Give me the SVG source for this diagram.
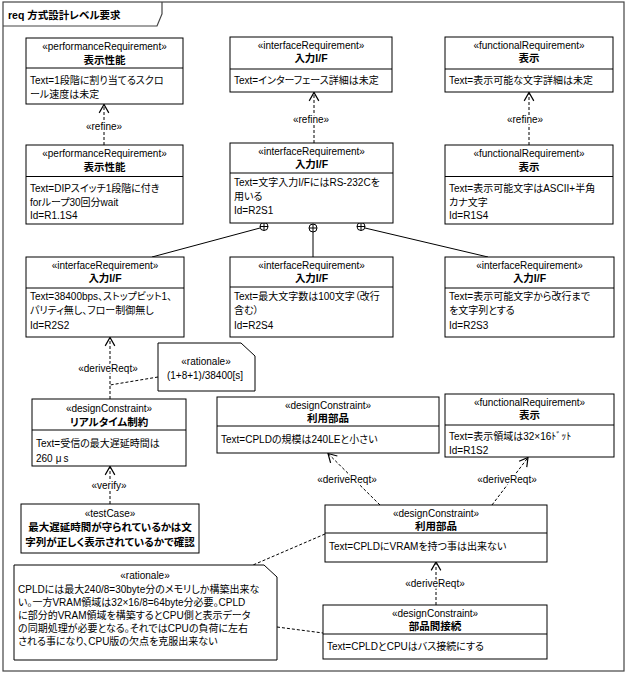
<svg xmlns="http://www.w3.org/2000/svg" width="627" height="675" viewBox="0 0 627 675">
<style>
.bg{fill:#fff}
.frame{fill:none;stroke:#444;stroke-width:1.2}
.b{fill:#fff;stroke:#000;stroke-width:1}
.d{stroke:#000;stroke-width:1}
.t{font-family:"Liberation Sans","Noto Sans CJK JP",sans-serif;font-size:10px;fill:#000;font-feature-settings:"palt" 1}
.c{text-anchor:middle}
.n{font-weight:bold;font-size:10.5px}
.np{font-feature-settings:normal}
.lbl{paint-order:stroke;stroke:#fff;stroke-width:3px;stroke-linejoin:round}
.dash{fill:none;stroke:#000;stroke-width:1;stroke-dasharray:3,2}
.solid{fill:none;stroke:#000;stroke-width:1}
</style>
<defs>
<marker id="open" markerUnits="userSpaceOnUse" markerWidth="12" markerHeight="12" viewBox="-8 -5 10 10" refX="0" refY="0" orient="auto">
<path d="M-7,-4 L0,0 L-7,4" fill="none" stroke="#000" stroke-width="1" stroke-dasharray="none"/>
</marker>
</defs>
<rect class="bg" x="0" y="0" width="627" height="675"/>
<g id="frame">
<rect class="frame" x="3" y="2" width="621" height="669"/>
<path class="frame" d="M3,26 H157 L162,14 V2"/>
<text class="t n" x="8" y="19">req 方式設計レベル要求</text>
</g>

<g id="connectors">
<line class="dash" x1="104" y1="145" x2="104" y2="104.5" marker-end="url(#open)"/>
<line class="dash" x1="314" y1="143" x2="314" y2="92.5" marker-end="url(#open)"/>
<line class="dash" x1="529" y1="145" x2="529" y2="92.5" marker-end="url(#open)"/>
<line class="solid" x1="260" y1="228" x2="152" y2="257"/>
<line class="solid" x1="313" y1="232" x2="313" y2="257"/>
<line class="solid" x1="365" y1="228" x2="488" y2="257"/>
<g id="containment">
<circle class="b" cx="264" cy="226.5" r="4"/><path class="d" d="M260,226.5 H268 M264,222.5 V230.5"/>
<circle class="b" cx="313" cy="228" r="4"/><path class="d" d="M309,228 H317 M313,224 V232"/>
<circle class="b" cx="361" cy="226.5" r="4"/><path class="d" d="M357,226.5 H365 M361,222.5 V230.5"/>
</g>
<line class="dash" x1="110" y1="399" x2="110" y2="337.5" marker-end="url(#open)"/>
<line class="dash" x1="158" y1="377" x2="110" y2="385"/>
<line class="dash" x1="110" y1="504" x2="110" y2="466.5" marker-end="url(#open)"/>
<line class="dash" x1="380" y1="505" x2="328" y2="453.5" marker-end="url(#open)"/>
<line class="dash" x1="492" y1="505" x2="528" y2="457.5" marker-end="url(#open)"/>
<line class="dash" x1="436" y1="605" x2="436" y2="562" marker-end="url(#open)"/>
<line class="dash" x1="325" y1="534" x2="253" y2="565"/>
<line class="dash" x1="277" y1="627" x2="323" y2="633"/>
<text class="t c lbl" x="104" y="130">«refine»</text>
<text class="t c lbl" x="311" y="122.5">«refine»</text>
<text class="t c lbl" x="525" y="122.5">«refine»</text>
<text class="t c lbl" x="108" y="371.5">«deriveReqt»</text>
<text class="t c lbl" x="109" y="488.5">«verify»</text>
<text class="t c lbl" x="347" y="482.5">«deriveReqt»</text>
<text class="t c lbl" x="507" y="482.5">«deriveReqt»</text>
<text class="t c lbl" x="435" y="586.5">«deriveReqt»</text>
</g>

<g id="n1">
<rect class="b" x="26" y="38" width="157" height="66"/>
<line class="d" x1="26" y1="68" x2="183" y2="68"/>
<text class="t c" x="104.5" y="49.5">«performanceRequirement»</text>
<text class="t c n" x="104.5" y="63.5">表示性能</text>
<text class="t" x="30" y="83.5">Text=1段階に割り当てるスクロ</text>
<text class="t" x="30" y="97.5">ール速度は未定</text>
</g>
<g id="n2">
<rect class="b" x="230" y="37" width="162" height="55"/>
<line class="d" x1="230" y1="69" x2="392" y2="69"/>
<text class="t c" x="311" y="48.5">«interfaceRequirement»</text>
<text class="t c n" x="311" y="62">入力I/F</text>
<text class="t" x="234" y="84">Text=インターフェース詳細は未定</text>
</g>
<g id="n3">
<rect class="b" x="445" y="37" width="168" height="55"/>
<line class="d" x1="445" y1="69" x2="613" y2="69"/>
<text class="t c" x="529" y="48.5">«functionalRequirement»</text>
<text class="t c n" x="529" y="62">表示</text>
<text class="t" x="449" y="84">Text=表示可能な文字詳細は未定</text>
</g>
<g id="n4">
<rect class="b" x="26" y="145" width="157" height="79"/>
<line class="d" x1="26" y1="176.5" x2="183" y2="176.5"/>
<text class="t c" x="104.5" y="157">«performanceRequirement»</text>
<text class="t c n" x="104.5" y="171">表示性能</text>
<text class="t" x="30" y="192">Text=DIPスイッチ1段階に付き</text>
<text class="t" x="30" y="205.5">forループ30回分wait</text>
<text class="t" x="30" y="219">Id=R1.1S4</text>
</g>
<g id="n5">
<rect class="b" x="230" y="143" width="163" height="80"/>
<line class="d" x1="230" y1="173" x2="393" y2="173"/>
<text class="t c" x="311.5" y="154.5">«interfaceRequirement»</text>
<text class="t c n" x="311.5" y="167.5">入力I/F</text>
<text class="t" x="234" y="185.5">Text=文字入力I/FにはRS-232Cを</text>
<text class="t" x="234" y="199.5">用いる</text>
<text class="t" x="234" y="213.5">Id=R2S1</text>
</g>
<g id="n6">
<rect class="b" x="445" y="145" width="168" height="79"/>
<line class="d" x1="445" y1="176.5" x2="613" y2="176.5"/>
<text class="t c" x="529" y="157">«functionalRequirement»</text>
<text class="t c n" x="529" y="171">表示</text>
<text class="t" x="449" y="192">Text=表示可能文字はASCII+半角</text>
<text class="t" x="449" y="205.5">カナ文字</text>
<text class="t" x="449" y="219">Id=R1S4</text>
</g>
<g id="n7">
<rect class="b" x="26" y="257" width="158" height="80"/>
<line class="d" x1="26" y1="288" x2="184" y2="288"/>
<text class="t c" x="105" y="268.5">«interfaceRequirement»</text>
<text class="t c n" x="105" y="282">入力I/F</text>
<text class="t" x="30" y="300">Text=38400bps、ストップビット1、</text>
<text class="t" x="30" y="314">パリティ無し、フロー制御無し</text>
<text class="t" x="30" y="328.5">Id=R2S2</text>
</g>
<g id="n8">
<rect class="b" x="230" y="257" width="163" height="80"/>
<line class="d" x1="230" y1="287" x2="393" y2="287"/>
<text class="t c" x="311.5" y="268.5">«interfaceRequirement»</text>
<text class="t c n" x="311.5" y="282">入力I/F</text>
<text class="t" x="234" y="300">Text=最大文字数は100文字（改行</text>
<text class="t" x="234" y="314">含む）</text>
<text class="t" x="234" y="328.5">Id=R2S4</text>
</g>
<g id="n9">
<rect class="b" x="445" y="257" width="169" height="80"/>
<line class="d" x1="445" y1="288" x2="614" y2="288"/>
<text class="t c" x="529.5" y="268.5">«interfaceRequirement»</text>
<text class="t c n" x="529.5" y="282">入力I/F</text>
<text class="t" x="449" y="300">Text=表示可能文字から改行まで</text>
<text class="t" x="449" y="314">を文字列とする</text>
<text class="t" x="449" y="328.5">Id=R2S3</text>
</g>
<g id="note1">
<path class="b" d="M158,343 H241 L255,356 V391 H158 Z"/>
<text class="t c" x="206" y="365">«rationale»</text>
<text class="t c" x="205" y="378.5">(1+8+1)/38400[s]</text>
</g>
<g id="n10">
<rect class="b" x="32" y="399" width="154" height="67"/>
<line class="d" x1="32" y1="430" x2="186" y2="430"/>
<text class="t c" x="109" y="411.5">«designConstraint»</text>
<text class="t c n" x="109" y="425.5">リアルタイム制約</text>
<text class="t" x="36" y="447">Text=受信の最大遅延時間は</text>
<text class="t" x="36" y="462">260<tspan dx="3">μ</tspan><tspan dx="2">s</tspan></text>
</g>
<g id="n11">
<rect class="b" x="21" y="504" width="178" height="49"/>
<text class="t c" x="110" y="517">«testCase»</text>
<text class="t c n" x="110" y="530.5">最大遅延時間が守られているかは文</text>
<text class="t c n" x="110" y="545.5">字列が正しく表示されているかで確認</text>
</g>
<g id="n12">
<rect class="b" x="217" y="397" width="222" height="56"/>
<line class="d" x1="217" y1="426" x2="439" y2="426"/>
<text class="t c" x="328" y="408.5">«designConstraint»</text>
<text class="t c n" x="328" y="421.5">利用部品</text>
<text class="t" x="221" y="442.5">Text=CPLDの規模は240LEと小さい</text>
</g>
<g id="n13">
<rect class="b" x="445" y="394" width="169" height="63"/>
<line class="d" x1="445" y1="425" x2="614" y2="425"/>
<text class="t c" x="529.5" y="405.5">«functionalRequirement»</text>
<text class="t c n" x="529.5" y="419">表示</text>
<text class="t" x="449" y="440">Text=表示領域は32×16<tspan class="np">ﾄﾞｯﾄ</tspan></text>
<text class="t" x="449" y="453.5">Id=R1S2</text>
</g>
<g id="n14">
<rect class="b" x="325" y="505" width="222" height="57"/>
<line class="d" x1="325" y1="533" x2="547" y2="533"/>
<text class="t c" x="436" y="516.5">«designConstraint»</text>
<text class="t c n" x="436" y="529.5">利用部品</text>
<text class="t" x="329" y="550">Text=CPLDにVRAMを持つ事は出来ない</text>
</g>
<g id="note2">
<path class="b" d="M14,565 H264 L277,577 V660 H14 Z"/>
<text class="t c" x="145" y="579">«rationale»</text>
<text class="t" x="18" y="593">CPLDには最大240/8=30byte分のメモリしか構築出来な</text>
<text class="t" x="18" y="606">い。一方VRAM領域は32×16/8=64byte分必要。CPLD</text>
<text class="t" x="18" y="619">に部分的VRAM領域を構築するとCPU側と表示データ</text>
<text class="t" x="18" y="632">の同期処理が必要となる。それではCPUの負荷に左右</text>
<text class="t" x="18" y="645">される事になり、CPU版の欠点を克服出来ない</text>
</g>
<g id="n15">
<rect class="b" x="323" y="605" width="224" height="54"/>
<line class="d" x1="323" y1="634" x2="547" y2="634"/>
<text class="t c" x="435" y="616.5">«designConstraint»</text>
<text class="t c n" x="435" y="629.5">部品間接続</text>
<text class="t" x="327" y="650">Text=CPLDとCPUはバス接続にする</text>
</g>
</svg>
